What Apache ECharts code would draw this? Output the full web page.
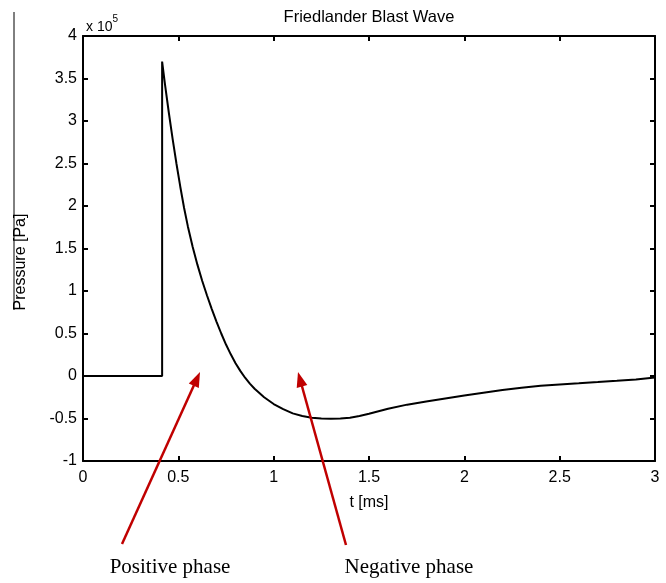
<!DOCTYPE html>
<html>
<head>
<meta charset="utf-8">
<script src="https://cdn.jsdelivr.net/npm/echarts@6/dist/echarts.min.js"></script>
<style>
html,body{margin:0;padding:0;background:#fff;}
#chart{width:666px;height:583px;}
</style>
</head>
<body>
<div id="chart"></div>
<script>
// time in ms
var tValues = [0, 0.415, 0.415, 0.43, 0.45, 0.47, 0.49, 0.51, 0.53, 0.55, 0.575, 0.6, 0.625, 0.65, 0.675, 0.7, 0.725, 0.75, 0.775, 0.8, 0.825, 0.85, 0.875, 0.9, 0.95, 1.0, 1.05, 1.1, 1.15, 1.2, 1.25, 1.3, 1.35, 1.4, 1.45, 1.5, 1.55, 1.6, 1.7, 1.8, 1.9, 2.0, 2.1, 2.2, 2.3, 2.4, 2.5, 2.6, 2.7, 2.8, 2.9, 3.0];
// pressure in units of 1e5 Pa
var pValues = [0, 0, 3.7, 3.43, 3.1, 2.79, 2.5, 2.23, 1.98, 1.76, 1.52, 1.31, 1.12, 0.95, 0.79, 0.64, 0.5, 0.37, 0.255, 0.15, 0.06, -0.02, -0.09, -0.15, -0.25, -0.33, -0.39, -0.44, -0.47, -0.49, -0.5, -0.502, -0.5, -0.49, -0.47, -0.445, -0.415, -0.385, -0.337, -0.3, -0.265, -0.23, -0.197, -0.166, -0.138, -0.115, -0.099, -0.086, -0.072, -0.057, -0.041, -0.018];
var xTicks = [0, 0.5, 1, 1.5, 2, 2.5, 3];
var yTicks = [-1, -0.5, 0, 0.5, 1, 1.5, 2, 2.5, 3, 3.5, 4];
var titleText = 'Friedlander Blast Wave';
var xName = 't [ms]';
var yName = 'Pressure [Pa]';
var annotations = ['Positive phase', 'Negative phase'];

var data = tValues.map(function (t, i) { return [t, pValues[i]]; });
var FONT = 'Liberation Sans, Arial, sans-serif';
var RED = '#c00000';

function arrow(x1, y1, x2, y2) {
  var dx = x2 - x1, dy = y2 - y1, len = Math.sqrt(dx * dx + dy * dy);
  var ux = dx / len, uy = dy / len;
  var hl = 15, hw = 5.5;
  var bx = x2 - ux * hl, by = y2 - uy * hl;
  return [
    { type: 'line', shape: { x1: x1, y1: y1, x2: bx + ux * 2, y2: by + uy * 2 }, style: { stroke: RED, lineWidth: 2.5 }, z: 100 },
    { type: 'polygon', shape: { points: [[x2, y2], [bx - uy * hw, by + ux * hw], [bx + uy * hw, by - ux * hw]] }, style: { fill: RED }, z: 100 }
  ];
}

function axisCommon() {
  return {
    type: 'value',
    axisLine: { show: true, onZero: false, lineStyle: { color: '#000', width: 2 } },
    axisTick: { show: true, inside: true, length: 5, lineStyle: { color: '#000', width: 2 } },
    splitLine: { show: false }
  };
}

var chart = echarts.init(document.getElementById('chart'), null, { renderer: 'canvas' });
var option = {
  backgroundColor: '#fff',
  animation: false,
  grid: { left: 83, right: 11, top: 36, bottom: 122 },
  xAxis: [
    Object.assign(axisCommon(), {
      min: xTicks[0], max: xTicks[xTicks.length - 1], interval: 0.5, position: 'bottom',
      axisLabel: { color: '#000', fontSize: 16, fontFamily: FONT, margin: 9 },
      name: xName, nameLocation: 'middle', nameGap: 34,
      nameTextStyle: { color: '#000', fontSize: 16, fontFamily: FONT }
    }),
    Object.assign(axisCommon(), {
      min: xTicks[0], max: xTicks[xTicks.length - 1], interval: 0.5, position: 'top',
      axisLabel: { show: false }
    })
  ],
  yAxis: [
    Object.assign(axisCommon(), {
      min: yTicks[0], max: yTicks[yTicks.length - 1], interval: 0.5, position: 'left',
      axisLabel: { color: '#000', fontSize: 16, fontFamily: FONT, margin: 6 }
    }),
    Object.assign(axisCommon(), {
      min: yTicks[0], max: yTicks[yTicks.length - 1], interval: 0.5, position: 'right',
      axisLabel: { show: false }
    })
  ],
  series: [{
    type: 'line',
    xAxisIndex: 0, yAxisIndex: 0,
    data: data,
    showSymbol: false,
    lineStyle: { color: '#000', width: 2 },
    clip: true
  }],
  graphic: [].concat(
    [
      { type: 'text', x: 369, y: 17, style: { text: titleText, fill: '#000', font: '16.5px ' + FONT, textAlign: 'center', textVerticalAlign: 'middle' } },
      { type: 'text', x: 86, y: 24, style: { text: '{a|x 10}{b|5}', rich: { a: { fontSize: 14, fontFamily: FONT, fill: '#000', verticalAlign: 'bottom' }, b: { fontSize: 10, fontFamily: FONT, fill: '#000', verticalAlign: 'top', padding: [0, 0, 10, 0] } }, textVerticalAlign: 'middle' } },
      { type: 'text', x: 21, y: 262, rotation: Math.PI / 2, style: { text: yName, fill: '#000', font: '16px ' + FONT, textAlign: 'center', textVerticalAlign: 'middle' } },
      { type: 'line', shape: { x1: 14, y1: 12, x2: 14, y2: 310 }, style: { stroke: '#000', lineWidth: 1 } },
      { type: 'text', x: 170, y: 567, style: { text: annotations[0], fill: '#000', font: '21px Liberation Serif, serif', textAlign: 'center', textVerticalAlign: 'middle' } },
      { type: 'text', x: 409, y: 567, style: { text: annotations[1], fill: '#000', font: '21px Liberation Serif, serif', textAlign: 'center', textVerticalAlign: 'middle' } }
    ],
    arrow(122, 544, 200, 372),
    arrow(346, 545, 298, 372)
  )
};
chart.setOption(option);
</script>
</body>
</html>
